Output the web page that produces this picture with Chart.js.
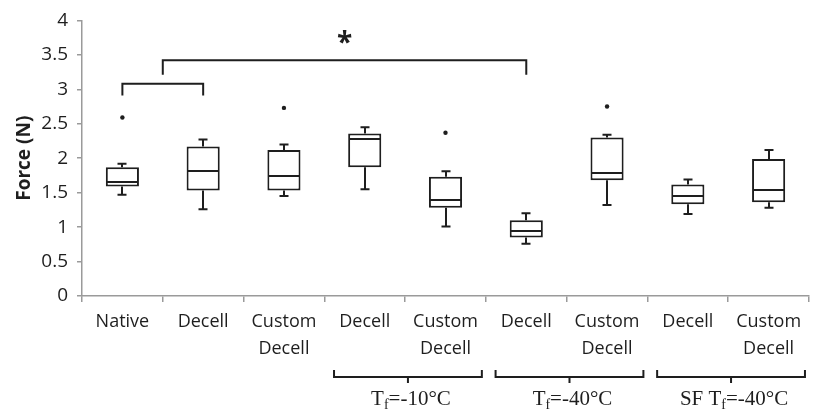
<!DOCTYPE html>
<html>
<head>
<meta charset="utf-8">
<script src="https://cdn.jsdelivr.net/npm/chart.js@4/dist/chart.umd.min.js"></script>
<style>
  html, body { margin: 0; padding: 0; background: #fff; }
  #wrap { width: 813px; height: 418px; }
</style>
</head>
<body>
<div id="wrap"><canvas id="c" width="813" height="418"></canvas></div>
<script>
const LABELS = [
  'Native', 'Decell', ['Custom', 'Decell'],
  'Decell', ['Custom', 'Decell'],
  'Decell', ['Custom', 'Decell'],
  'Decell', ['Custom', 'Decell'],
]
const WHISKER_LOW  = [1.47, 1.26, 1.45, 1.55, 1.01, 0.76, 1.32, 1.19, 1.28]
const Q1           = [1.59, 1.53, 1.53, 1.87, 1.28, 0.85, 1.68, 1.33, 1.36]
const MEDIAN       = [1.66, 1.82, 1.74, 2.28, 1.39, 0.95, 1.79, 1.45, 1.54]
const Q3           = [1.87, 2.17, 2.12, 2.36, 1.73, 1.10, 2.30, 1.62, 1.99]
const WHISKER_HIGH = [1.92, 2.27, 2.20, 2.45, 1.81, 1.20, 2.34, 1.69, 2.12]
const OUTLIERS     = [2.59, null, 2.73, null, 2.37, null, 2.75, null, null]

// significance brackets: [from category, to category, y of bar, y of leg ends]
const SIG_BRACKETS = [
  [0, 1, 3.08, 2.91],
  [0.5, 5, 3.42, 3.21],
]
const SIG_STAR = { x: 2.75, y: 3.7, text: '*' }

// treatment groups under the axis
const GROUPS = [
  { from: 3, to: 4, pre: '', sub: 'f', post: '=-10°C' },
  { from: 5, to: 6, pre: '', sub: 'f', post: '=-40°C' },
  { from: 7, to: 8, pre: 'SF ', sub: 'f', post: '=-40°C' },
]

const INK = '#1e1e1e'
const AXIS = '#9a9a9a'

const whiskers = {
  id: 'whiskers',
  beforeDatasetsDraw(chart) {
    const { ctx, scales: { x, y } } = chart
    ctx.save()
    ctx.strokeStyle = INK
    ctx.lineWidth = 2
    WHISKER_LOW.forEach((lo, i) => {
      const px = Math.round(x.getPixelForValue(i))
      const cap = 4.5
      ctx.beginPath()
      ctx.moveTo(px, y.getPixelForValue(Q3[i]))
      ctx.lineTo(px, y.getPixelForValue(WHISKER_HIGH[i]))
      ctx.moveTo(px - cap, y.getPixelForValue(WHISKER_HIGH[i]))
      ctx.lineTo(px + cap, y.getPixelForValue(WHISKER_HIGH[i]))
      ctx.moveTo(px, y.getPixelForValue(Q1[i]))
      ctx.lineTo(px, y.getPixelForValue(lo))
      ctx.moveTo(px - cap, y.getPixelForValue(lo))
      ctx.lineTo(px + cap, y.getPixelForValue(lo))
      ctx.stroke()
    })
    ctx.restore()
  },
  afterDatasetsDraw(chart) {
    // median line across each box
    const { ctx, scales: { y } } = chart
    const boxes = chart.getDatasetMeta(0).data
    ctx.save()
    ctx.strokeStyle = INK
    ctx.lineWidth = 2
    MEDIAN.forEach((m, i) => {
      const b = boxes[i]
      const py = Math.round(y.getPixelForValue(m))
      ctx.beginPath()
      ctx.moveTo(b.x - b.width / 2 + 1, py)
      ctx.lineTo(b.x + b.width / 2 - 1, py)
      ctx.stroke()
    })
    ctx.restore()
  }
}

const annotations = {
  id: 'annotations',
  afterDraw(chart) {
    const { ctx, scales: { x, y } } = chart
    ctx.save()
    ctx.strokeStyle = INK
    ctx.lineWidth = 2
    SIG_BRACKETS.forEach(([a, b, top, leg]) => {
      const xa = x.getPixelForValue(a), xb = x.getPixelForValue(b)
      ctx.beginPath()
      ctx.moveTo(xa, y.getPixelForValue(leg))
      ctx.lineTo(xa, y.getPixelForValue(top))
      ctx.lineTo(xb, y.getPixelForValue(top))
      ctx.lineTo(xb, y.getPixelForValue(leg))
      ctx.stroke()
    })
    ctx.fillStyle = INK
    ctx.font = 'bold 28px "Open Sans"'
    ctx.textAlign = 'center'
    ctx.textBaseline = 'middle'
    ctx.fillText(SIG_STAR.text, x.getPixelForValue(SIG_STAR.x), y.getPixelForValue(SIG_STAR.y) + 3)

    // group brackets below the category labels
    const base = y.bottom + 81
    GROUPS.forEach(g => {
      const xa = x.getPixelForValue(g.from - 0.38)
      const xb = x.getPixelForValue(g.to + 0.45)
      const mid = (xa + xb) / 2
      ctx.beginPath()
      ctx.moveTo(xa, base - 7)
      ctx.lineTo(xa, base)
      ctx.lineTo(xb, base)
      ctx.lineTo(xb, base - 7)
      ctx.moveTo(mid, base)
      ctx.lineTo(mid, base + 6)
      ctx.stroke()

      const big = '21px "Liberation Serif"', small = '14px "Liberation Serif"'
      ctx.font = big
      const w1 = ctx.measureText(g.pre + 'T').width
      const w3 = ctx.measureText(g.post).width
      ctx.font = small
      const w2 = ctx.measureText(g.sub).width
      let tx = mid + 3 - (w1 + w2 + w3) / 2
      const ty = base + 28
      ctx.textAlign = 'left'
      ctx.textBaseline = 'alphabetic'
      ctx.font = big
      ctx.fillText(g.pre + 'T', tx, ty)
      tx += w1
      ctx.font = small
      ctx.fillText(g.sub, tx, ty + 4)
      tx += w2
      ctx.font = big
      ctx.fillText(g.post, tx, ty)
    })
    ctx.restore()
  }
}

new Chart(document.getElementById('c'), {
  type: 'bar',
  data: {
    labels: LABELS,
    datasets: [
      {
        label: 'box', data: Q1.map((q, i) => [q, Q3[i]]),
        backgroundColor: '#fff', borderColor: INK, borderWidth: 2, borderSkipped: false,
        barPercentage: 0.41, categoryPercentage: 1,
      },
      {
        type: 'line', label: 'outliers', data: OUTLIERS, showLine: false,
        pointRadius: 2.2, pointBackgroundColor: INK, pointBorderWidth: 0,
      },
    ],
  },
  options: {
    responsive: false,
    animation: false,
    layout: { padding: { top: 14, right: 1, left: 0, bottom: 0 } },
    plugins: { legend: { display: false }, tooltip: { enabled: false } },
    scales: {
      x: {
        afterFit: (s) => { s.height = 122 },
        grid: { drawOnChartArea: false, tickLength: 6, color: AXIS, lineWidth: 1.5 },
        border: { color: AXIS, width: 1.5 },
        ticks: {
          color: INK, padding: 6, maxRotation: 0, autoSkip: false,
          font: { family: 'Open Sans', size: 18, lineHeight: 1.5 },
        },
      },
      y: {
        min: 0, max: 4,
        afterFit: (s) => { s.width = 82 },
        grid: { drawOnChartArea: false, tickLength: 5, color: AXIS, lineWidth: 1.5 },
        border: { color: AXIS, width: 1.5 },
        ticks: {
          stepSize: 0.5, color: INK, padding: 9,
          font: { family: 'Open Sans', size: 19 },
          callback: (v) => String(+v.toFixed(1)),
        },
        title: {
          display: true, text: 'Force (N)', color: INK, padding: { top: 13, bottom: 0 },
          font: { family: 'Open Sans', size: 19, weight: 'bold' },
        },
      },
    },
  },
  plugins: [whiskers, annotations],
})
</script>
</body>
</html>
